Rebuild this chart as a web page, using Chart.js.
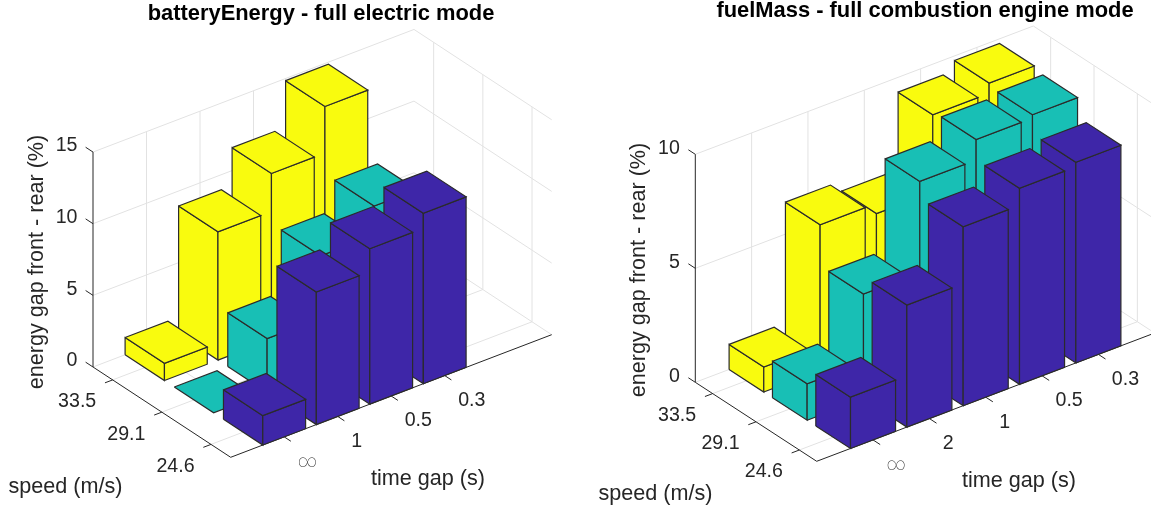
<!DOCTYPE html>
<html>
<head>
<meta charset="utf-8">
<title>energy gap</title>
<script src="https://cdn.jsdelivr.net/npm/chart.js@4"></script>
<style>
  html, body { margin: 0; padding: 0; background: #fff; overflow: hidden; width: 1151px; height: 508px; }
  canvas { position: absolute; top: 0; }
</style>
</head>
<body>
<canvas id="battery" width="642" height="508" style="left:0"></canvas>
<canvas id="fuel" width="670" height="508" style="left:590px"></canvas>
<script>
const speedLabels = ["33.5", "29.1", "24.6"];
const batteryGapLabels = ["∞", "1", "0.5", "0.3"];
const fuelGapLabels = ["∞", "2", "1", "0.5", "0.3"];
const batteryZTicks = [0, 5, 10, 15];
const fuelZTicks = [0, 5, 10];

// one list per speed, values go from gap = inf to the smallest gap
const battery335 = [1.2, 8.95, 11.6, 14.85];
const battery291 = [0, 3.75, 8.1, 10.15];
const battery246 = [2.05, 9.25, 10.85, 11.9];
const fuel335 = [1.1, 6.4, 5.95, 9.35, 9.8];
const fuel291 = [1.6, 4.6, 8.6, 9.5, 9.65];
const fuel246 = [2.25, 5.35, 7.85, 8.6, 8.8];

const speedColors = ["#f9fb0e", "#18bfb5", "#3e26a8"];
const textColor = "#262626";
const gridColor = "#e2e2e2";
const edgeColor = "#2b2b2b";
const font = "Liberation Sans, Arial, sans-serif";

// speed axis runs 0.6..3.4, gap axis 0..6 (same view for both plots, only the box differs)
const SMIN = 0.6, SMAX = 3.4, TMAX = 6, HALF = 0.4;

function project(p, s, t, z) {
  const a = (s - SMIN) / (SMAX - SMIN), b = t / TMAX;
  return {
    x: p.x0 + a * p.ux + b * p.vx,
    y: p.y0 + a * p.uy + b * p.vy - z * p.zScale,
  };
}

function polyline(pts, color) {
  return {
    data: pts.concat(),
    showLine: true, fill: false, pointRadius: 0,
    borderColor: color, borderWidth: 1,
    borderDash: [1000, 0], // solid, but keeps chart.js off its x-rounding fast path
  };
}

function face(pts, color) {
  const ds = polyline(pts.concat([pts[0]]), edgeColor);
  ds.fill = "shape";
  ds.backgroundColor = color;
  ds.borderWidth = 1.2;
  return ds;
}

function buildDatasets(p) {
  const P = (s, t, z) => project(p, s, t, z);
  const nGap = p.gapLabels.length;
  const gaps = p.gapLabels.map((_, i) => i + 1);
  const speeds = speedLabels.map((_, i) => i + 1);
  const zMax = p.zTicks[p.zTicks.length - 1];
  const out = [];

  // walls and floor
  gaps.forEach(t => {
    out.push(polyline([P(SMIN, t, zMax), P(SMIN, t, 0), P(SMAX, t, 0)], gridColor));
  });
  speeds.forEach(s => {
    out.push(polyline([P(s, TMAX, zMax), P(s, TMAX, 0), P(s, 0, 0)], gridColor));
  });
  p.zTicks.forEach(z => {
    out.push(polyline([P(SMIN, 0, z), P(SMIN, TMAX, z), P(SMAX, TMAX, z)], gridColor));
  });

  // axis lines and ticks
  out.push(polyline([P(SMIN, 0, zMax), P(SMIN, 0, 0), P(SMAX, 0, 0), P(SMAX, TMAX, 0)], textColor));
  p.zTicks.forEach(z => out.push(polyline([P(SMIN, 0, z), P(SMIN - p.zTick, 0, z)], textColor)));
  speeds.forEach(s => out.push(polyline([P(s, 0, 0), P(s, -p.sTick, 0)], textColor)));
  gaps.forEach(t => out.push(polyline([P(SMAX, t, 0), P(SMAX + p.tTick, t, 0)], textColor)));

  // bars, far ones first
  p.rows.forEach((row, si) => {
    const s = si + 1;
    for (let ti = nGap - 1; ti >= 0; ti--) {
      const t = ti + 1, z = row[ti], c = speedColors[si];
      const s0 = s - HALF, s1 = s + HALF, t0 = t - HALF, t1 = t + HALF;
      if (z > 0) {
        out.push(face([P(s0, t0, 0), P(s1, t0, 0), P(s1, t0, z), P(s0, t0, z)], c));
        out.push(face([P(s1, t0, 0), P(s1, t1, 0), P(s1, t1, z), P(s1, t0, z)], c));
      }
      out.push(face([P(s0, t0, z), P(s1, t0, z), P(s1, t1, z), P(s0, t1, z)], c));
    }
  });

  // chart.js paints the first dataset last
  return out.reverse();
}

const axisText = {
  id: "axisText",
  afterDraw(chart, args, opts) {
    const p = opts.panel;
    const ctx = chart.ctx;
    const sx = chart.scales.x, sy = chart.scales.y;
    const put = (txt, x, y, align, fontSpec, rot) => {
      ctx.save();
      ctx.translate(sx.getPixelForValue(x), sy.getPixelForValue(y));
      if (rot) ctx.rotate(rot);
      ctx.font = fontSpec;
      ctx.fillStyle = textColor;
      ctx.textAlign = align;
      ctx.textBaseline = "middle";
      ctx.fillText(txt, 0, 0);
      ctx.restore();
    };
    const tickFont = "19.6px " + font, titleFont = "21.6px " + font;
    p.zTicks.forEach(z => {
      const q = project(p, SMIN, 0, z);
      put(String(z), q.x - 15.5, q.y - 6, "right", tickFont);
    });
    speedLabels.forEach((l, i) => {
      const q = project(p, i + 1, 0, 0);
      put(l, q.x - 35.5, q.y + 22, "center", tickFont);
    });
    p.gapLabels.forEach((l, i) => {
      const q = project(p, SMAX, i + 1, 0);
      if (l === "∞") put(l, q.x + 13.5, q.y + 26, "left", "100 18px Roboto");
      else put(l, q.x + 13.5, q.y + 25, "left", tickFont);
    });
    put("energy gap front - rear (%)", p.zTitle[0], p.zTitle[1], "center", titleFont, -Math.PI / 2);
    put("speed (m/s)", p.sTitle[0], p.sTitle[1], "center", titleFont);
    put("time gap (s)", p.tTitle[0], p.tTitle[1], "center", titleFont);
  },
};

function draw(id, left, width, title, titleTop, p) {
  new Chart(document.getElementById(id), {
    type: "scatter",
    data: { datasets: buildDatasets(p) },
    plugins: [axisText],
    options: {
      responsive: false,
      animation: false,
      events: [],
      layout: { padding: 0 },
      scales: {
        x: { type: "linear", display: false, min: left, max: left + width },
        y: { type: "linear", display: false, reverse: true, min: 25, max: 508 },
      },
      plugins: {
        legend: { display: false },
        tooltip: { enabled: false },
        title: {
          display: true, text: title, color: "#000",
          font: { family: font, size: 21.9, weight: "bold", lineHeight: "20px" },
          padding: { top: titleTop, bottom: 5 - titleTop },
        },
        axisText: { panel: p },
      },
    },
  });
}

draw("battery", 0, 642, "batteryEnergy - full electric mode", 4, {
  rows: [battery335, battery291, battery246],
  gapLabels: batteryGapLabels, zTicks: batteryZTicks,
  x0: 93, y0: 367, ux: 137.7, uy: 90.3, vx: 321, vy: -122.6, zScale: 14.33,
  zTick: 0.15, sTick: 0.144, tTick: 0.136,
  zTitle: [37, 262], sTitle: [65.5, 487], tTitle: [428, 479],
});

draw("fuel", 590, 670, "fuelMass - full combustion engine mode", 1, {
  rows: [fuel335, fuel291, fuel246],
  gapLabels: fuelGapLabels, zTicks: fuelZTicks,
  x0: 695.3, y0: 382.3, ux: 121.4, uy: 79, vx: 338, vy: -128.3, zScale: 22.8,
  zTick: 0.16, sTick: 0.137, tTick: 0.165,
  zTitle: [639.5, 270], sTitle: [655.5, 494], tTitle: [1019, 481.5],
});
</script>
</body>
</html>
